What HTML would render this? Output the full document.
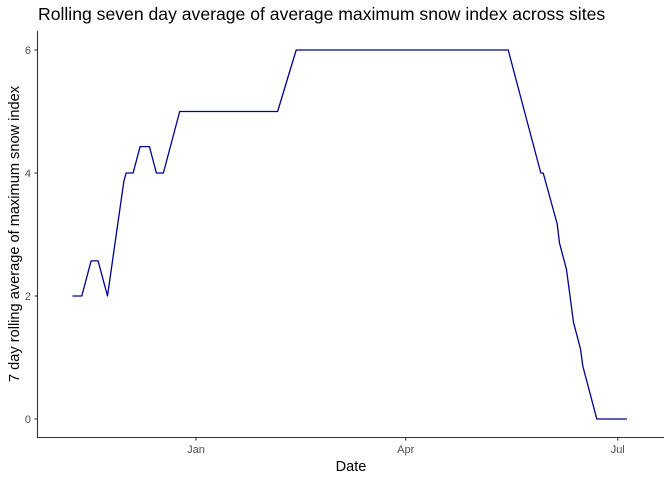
<!DOCTYPE html>
<html><head><meta charset="utf-8"><style>
html,body{margin:0;padding:0;background:#fff;}
svg{display:block;font-family:"Liberation Sans",Arial,sans-serif;}
</style></head><body>
<svg id="chart" width="672" height="480" viewBox="0 0 672 480">
<text x="38" y="20" font-size="17.6" fill="#000">Rolling seven day average of average maximum snow index across sites</text>
<text x="351" y="471" font-size="14.5" text-anchor="middle" fill="#000">Date</text>
<text transform="translate(19,234) rotate(-90)" font-size="14.6" text-anchor="middle" fill="#000">7 day rolling average of maximum snow index</text>
<g id="yaxis"></g>
<g id="xaxis"></g>
<path id="line" fill="none" stroke="#00008b" stroke-width="1.3" stroke-linejoin="round"></path>
</svg>
<script>
// days relative to Jan 1
const days = [-53,-49,-45,-42,-38,-31,-30,-27,-24,-20,-17,-14,-7,35,43,134,148,149,155,156,159,162,165,166,172,185];
const values = [2,2,2.57,2.57,2,3.86,4,4,4.43,4.43,4,4,5,5,6,6,4,4,3.17,2.86,2.43,1.57,1.14,0.86,0,0];
const yTicks = [0,2,4,6];
const xTickDays = [0,90,181];
const xTickLabels = ["Jan","Apr","Jul"];

const x = d => 196 + d * 2.33;
const y = v => 419 - v * 61.5;
const NS = "http://www.w3.org/2000/svg";
function mk(tag, attrs, parent){const e=document.createElementNS(NS,tag);for(const k in attrs)e.setAttribute(k,attrs[k]);parent.appendChild(e);return e;}

const ya = document.getElementById('yaxis');
mk('line',{x1:37.5,x2:37.5,y1:31,y2:438,stroke:'#333','stroke-width':1.1},ya);
yTicks.forEach(t=>{
  mk('line',{x1:34.5,x2:37.5,y1:y(t),y2:y(t),stroke:'#333','stroke-width':1.1},ya);
  const tx=mk('text',{x:31,y:y(t)+4,'font-size':11,'text-anchor':'end',fill:'#4d4d4d'},ya);
  tx.textContent=t;
  
  
});
const xa = document.getElementById('xaxis');
mk('line',{x1:37,x2:664,y1:437.5,y2:437.5,stroke:'#333','stroke-width':1.1},xa);
xTickDays.forEach((d,i)=>{
  mk('line',{x1:x(d),x2:x(d),y1:437.5,y2:440.5,stroke:'#333','stroke-width':1.1},xa);
  const tx=mk('text',{x:x(d),y:453,'font-size':11,'text-anchor':'middle',fill:'#4d4d4d'},xa);
  tx.textContent=xTickLabels[i];
  
  
});
document.getElementById('line').setAttribute('d', days.map((d,i)=>(i?'L':'M')+x(d).toFixed(1)+','+y(values[i]).toFixed(1)).join(''));
</script>
</body></html>
